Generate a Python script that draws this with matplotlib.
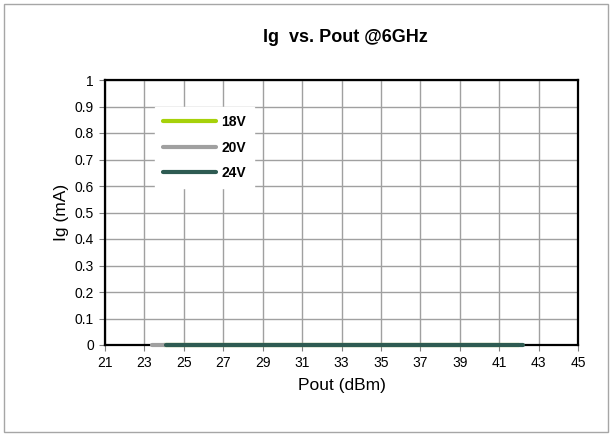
import matplotlib
matplotlib.use("Agg")
import matplotlib.pyplot as plt
from matplotlib.patches import Rectangle

plt.rcParams['font.family'] = ['Liberation Sans', 'DejaVu Sans']

# Data (Ig in mA vs Pout in dBm)
pout_18v = [24, 25, 26, 27, 28, 29, 30, 31, 32, 33, 34, 35, 36, 37, 38, 39, 40, 41, 42]
ig_18v = [0, 0, 0, 0, 0, 0, 0, 0, 0, 0, 0, 0, 0, 0, 0, 0, 0, 0, 0]
pout_20v = [23.4, 24.5, 25.5, 26.5, 27.5, 28.5, 29.5, 30.5, 31.5, 32.5, 33.5, 34.5, 35.5, 36.5, 37.5, 38.5, 39.5, 40.5, 41.0]
ig_20v = [0, 0, 0, 0, 0, 0, 0, 0, 0, 0, 0, 0, 0, 0, 0, 0, 0, 0, 0]
pout_24v = [24.1, 25, 26, 27, 28, 29, 30, 31, 32, 33, 34, 35, 36, 37, 38, 39, 40, 41, 42.2]
ig_24v = [0, 0, 0, 0, 0, 0, 0, 0, 0, 0, 0, 0, 0, 0, 0, 0, 0, 0, 0]

series_labels = ['18V', '20V', '24V']
series_colors = ['#A6D10A', '#A0A0A0', '#2E5B52']
x_ticks = [21, 23, 25, 27, 29, 31, 33, 35, 37, 39, 41, 43, 45]
y_ticks = [0, 0.1, 0.2, 0.3, 0.4, 0.5, 0.6, 0.7, 0.8, 0.9, 1]

fig = plt.figure(figsize=(6.13, 4.37), dpi=100)
fig.patches.append(Rectangle((4/613, 5/437), 604/613, 428/437, transform=fig.transFigure,
                             fill=False, edgecolor='#A6A6A6', linewidth=1.0))

ax = fig.add_axes([105/613, (437-345)/437, 473/613, 265/437])

for xs, ys, lab, col in zip([pout_18v, pout_20v, pout_24v], [ig_18v, ig_20v, ig_24v],
                            series_labels, series_colors):
    ax.plot(xs, ys, color=col, linewidth=3, label=lab, solid_capstyle='round', zorder=3, clip_on=False)

ax.set_xlim(21, 45)
ax.set_ylim(0, 1)
ax.set_xticks(x_ticks)
ax.set_yticks(y_ticks)
ax.set_xticklabels([str(t) for t in x_ticks], fontsize=10)
ax.set_yticklabels(['0', '0.1', '0.2', '0.3', '0.4', '0.5', '0.6', '0.7', '0.8', '0.9', '1'], fontsize=10)
ax.grid(True, color='#A0A0A0', linewidth=1.0)
ax.set_axisbelow(True)
for s in ax.spines.values():
    s.set_linewidth(1.6)
    s.set_color('black')
ax.tick_params(direction='out', length=4, width=0.8, color='#808080', pad=4)

ax.set_xlabel('Pout (dBm)', fontsize=12.5, labelpad=6)
ax.set_ylabel('Ig (mA)', fontsize=12.5, labelpad=4)
fig.text(345/613, 1 - 38/437, 'Ig  vs. Pout @6GHz', fontsize=13, fontweight='bold',
         ha='center', va='center')

leg = ax.legend(loc='upper left', bbox_to_anchor=(0.09, 0.925), frameon=True,
                prop={'weight': 'bold', 'size': 10}, handlelength=3.8, handletextpad=0.4,
                labelspacing=0.82, borderpad=0.6, fancybox=False)
leg.get_frame().set_edgecolor('white')
leg.get_frame().set_facecolor('white')
leg.get_frame().set_alpha(1)

fig.savefig('out.png', dpi=100)
